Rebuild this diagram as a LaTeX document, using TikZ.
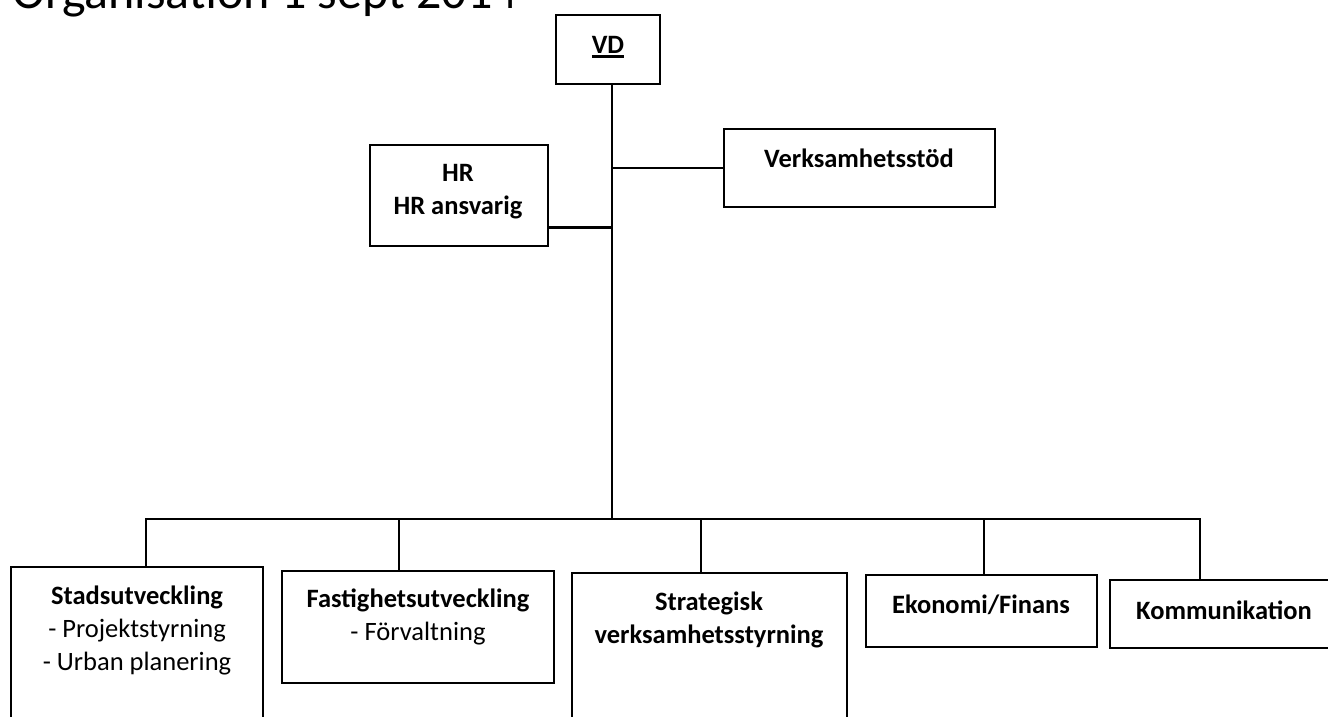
\documentclass[tikz,border=0pt]{standalone}
\usepackage{fontspec}
\setmainfont{Carlito}
\usetikzlibrary{positioning}
\newcommand{\ulbox}[1]{\setbox0\hbox{#1}\vtop{\box0\kern2.4pt\hrule height 2.6pt}}
\tikzset{
  base/.style={font=\fontsize{26.5}{33}\selectfont, text=black},
  title/.style={font=\fontsize{50}{60}\selectfont, text=black, inner sep=0pt},
  box/.style={draw=black, line width=2.8pt},
  head/.style={base, font=\bfseries\fontsize{26.5}{33}\selectfont, align=center, inner sep=0pt},
  sub/.style={base, align=center, inner sep=0pt},
  link/.style={draw=black, line width=2.8pt},
}
\begin{document}
\begin{tikzpicture}[x=1pt,y=-1pt]
  \useasboundingbox (0,0) rectangle (1328,717);
  \clip (0,0) rectangle (1328,717);

  \node[title,anchor=base west] (title) at (12,9) {Organisation 1 sept 2014};

  % boxes
  \node[box,minimum width=104pt,minimum height=69pt] (vd) at (608,49.5) {};
  \node[box,minimum width=178pt,minimum height=101pt] (hr) at (459,195.5) {};
  \node[box,minimum width=271pt,minimum height=78pt] (verk) at (859.5,168) {};
  \node[box,minimum width=252pt,minimum height=213pt] (stads) at (137,673.5) {};
  \node[box,minimum width=272pt,minimum height=112pt] (fast) at (418,627) {};
  \node[box,minimum width=275pt,minimum height=207pt] (strat) at (709.5,676.5) {};
  \node[box,minimum width=231pt,minimum height=72pt] (ekon) at (981.5,611) {};
  \node[box,minimum width=290pt,minimum height=68pt] (komm) at (1255,614) {};

  % texts
  \node[head] (vdLbl) at (608,47) {\ulbox{VD}};
  \node[head] (hrLbl) at (458,192) {HR\\HR ansvarig};
  \node[head] (verkLbl) at (859,158) {Verksamhetsstöd};
  \node[sub] (stadsLbl) at (137,630) {\textbf{Stadsutveckling}\\- Projektstyrning\\- Urban planering};
  \node[sub] (fastLbl) at (418,616.5) {\textbf{Fastighetsutveckling}\\- Förvaltning};
  \node[head] (stratLbl) at (709,620) {Strategisk\\verksamhetsstyrning};
  \node[head] (ekonLbl) at (981,605) {Ekonomi/Finans};
  \node[head] (kommLbl) at (1224,610) {Kommunikation};

  % lines
  \coordinate (trunk) at (612,519);
  \coordinate (busL) at (146,519);
  \coordinate (busR) at (1200,519);
  \coordinate (dropB) at (399,519);
  \coordinate (dropC) at (701,519);
  \coordinate (dropD) at (984,519);
  \coordinate (hrTap) at ([yshift=-32pt]hr.east);

  \draw[link] (trunk |- vd.south) -- (trunk);
  \draw[link] (trunk |- verk.west) -- (verk.west);
  \draw[link] (hrTap) -- (hrTap -| trunk);
  \draw[link] (busL |- stads.north) -- (busL) -- (busR) -- (busR |- komm.north);
  \foreach \d/\b in {dropB/fast,dropC/strat,dropD/ekon}
    \draw[link] (\d) -- (\d |- \b.north);
\end{tikzpicture}
\end{document}
